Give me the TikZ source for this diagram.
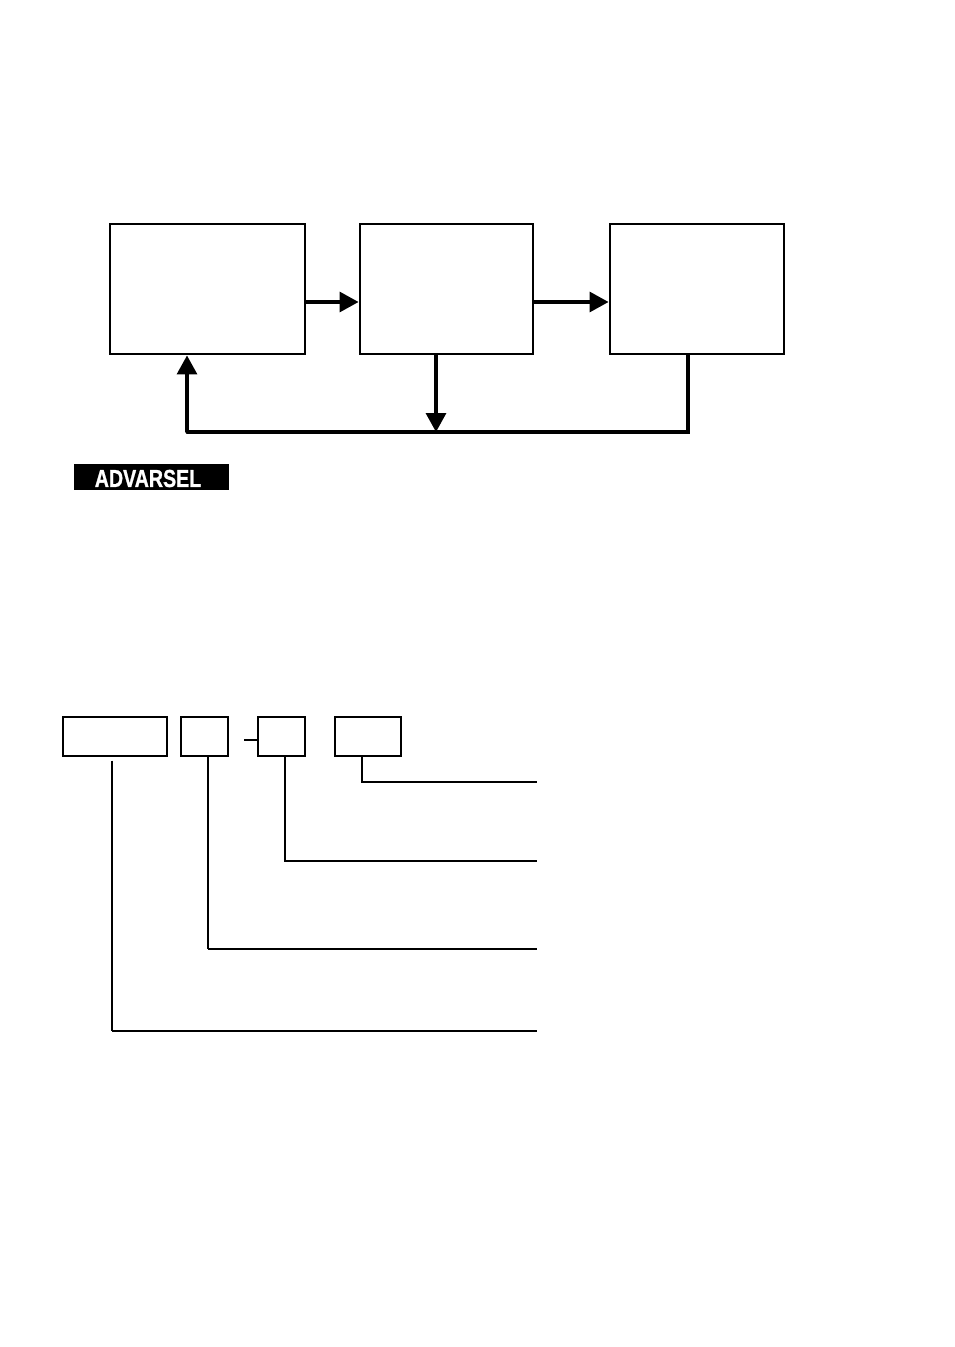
\documentclass[tikz,border=0pt]{standalone}
\usepackage{fontspec}
\setmainfont{Liberation Sans}
\newfontfamily\advfont[FakeBold=1.2]{Liberation Sans Bold}
\usetikzlibrary{arrows.meta}
\begin{document}
\begin{tikzpicture}[x=1pt,y=-1pt,
  topbox/.style={draw, line width=2.9pt, inner sep=0pt},
  botbox/.style={draw, line width=1.4pt, inner sep=0pt, minimum height=39pt},
  flow/.style={line width=3.2pt, -{Triangle[length=19pt,width=20pt]}},
  fline/.style={line width=3.2pt, line cap=round},
  leader/.style={line width=1.4pt},
  heavy/.style={line width=2.6pt}]
\useasboundingbox (0,0) rectangle (954,1347);
% top flow
\node[topbox, minimum width=195pt, minimum height=130pt] (b1) at (207.5,289) {};
\node[topbox, minimum width=173pt, minimum height=130pt] (b2) at (446.5,289) {};
\node[topbox, minimum width=174pt, minimum height=130pt] (b3) at (697,289) {};
\coordinate (ay) at (0,302);
\coordinate (fy) at (0,432);
\draw[flow] (b1.east |- ay) -- (b2.west |- ay);
\draw[flow] (b2.east |- ay) -- (b3.west |- ay);
\coordinate (c3) at ([xshift=-9pt]b3.south |- fy);
\coordinate (c1) at ([xshift=-20.5pt]b1.south |- fy);
\draw[fline] ([xshift=-9pt]b3.south) -- (c3) -- (c1);
\draw[flow] (c1) -- ([xshift=-20.5pt]b1.south);
\draw[flow] ([xshift=-10.5pt]b2.south) -- ([xshift=-10.5pt]b2.south |- fy);
% warning label
\node[fill=black, minimum width=155pt, minimum height=26pt, inner sep=0pt] (warn) at (151.5,477) {};
\node[text=white, font=\advfont\fontsize{24.5}{25}\selectfont, xscale=0.8, inner sep=0pt] (warntxt) at (148,478.5) {ADVARSEL};
% bottom code boxes
\node[botbox, minimum width=104pt] (bA) at (115,736.5) {};
\node[botbox, minimum width=47pt] (bB) at (204.5,736.5) {};
\node[botbox, minimum width=47pt] (bC) at (281.5,736.5) {};
\node[botbox, minimum width=66pt] (bD) at (368,736.5) {};
\coordinate (dstart) at (244,740);
\draw[line width=2pt] (dstart) -- (bC.west |- dstart);
% leaders
\coordinate (e1) at (537,782);
\coordinate (e2) at (537,861);
\coordinate (e3) at (537,949);
\coordinate (e4) at (537,1031);
\draw[leader] ([xshift=-6pt]bD.south) |- (e1);
\draw[leader] ([xshift=3.5pt]bC.south) |- (e2);
\coordinate (kB) at ([xshift=3.5pt]bB.south |- e3);
\draw[leader] ([xshift=3.5pt]bB.south) -- (kB);
\draw[heavy] (kB) -- (e3);
\coordinate (kA) at ([xshift=-3pt]bA.south |- e4);
\draw[leader] ([xshift=-3pt,yshift=-4pt]bA.south) -- (kA);
\draw[heavy] (kA) -- (e4);
\end{tikzpicture}
\end{document}
